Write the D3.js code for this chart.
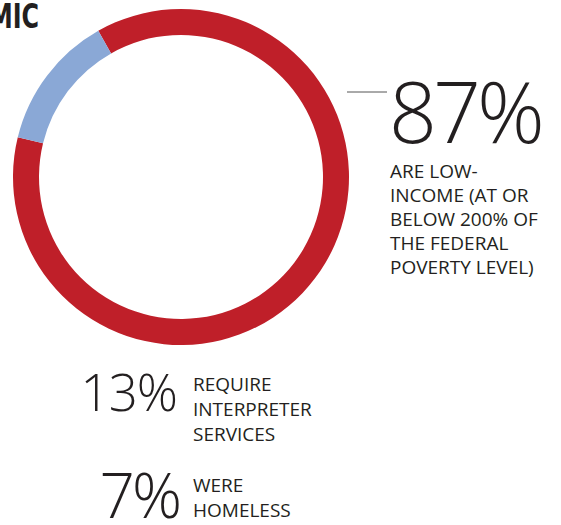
<!DOCTYPE html>
<html lang="en">
<head>
<meta charset="UTF-8">
<title>Patient profile</title>
<script src="https://cdn.jsdelivr.net/npm/d3@7"></script>
<style>
  body { margin: 0; background: #fff; }
  .title { font-family: "Liberation Sans Narrow", "DejaVu Sans Condensed", sans-serif; font-weight: 700; font-size: 34px; fill: #231f20; }
  .big { font-family: "Open Sans", "DejaVu Sans", sans-serif; font-weight: 300; fill: #231f20; }
  .label { font-family: "Open Sans", "DejaVu Sans Condensed", sans-serif; font-size: 19px; fill: #231f20; }
</style>
</head>
<body>
<div id="chart"></div>
<script>
// data
var shareNames = ["Low-income", "Other"];
var shareValues = [87, 13];
var shareColors = ["#bf1f29", "#8aa8d6"];

var statValues = ["87%", "13%", "7%"];
var statLines = [
  ["ARE LOW-", "INCOME (AT OR", "BELOW 200% OF", "THE FEDERAL", "POVERTY LEVEL)"],
  ["REQUIRE", "INTERPRETER", "SERVICES"],
  ["WERE", "HOMELESS"]
];

var width = 561, height = 525;
var cx = 181, cy = 177, rOuter = 168, rInner = 142;

var svg = d3.select("#chart").append("svg")
  .attr("width", width)
  .attr("height", height);

// title, cut off at the left edge (condensed by a horizontal squeeze)
svg.append("text")
  .attr("class", "title")
  .attr("transform", "translate(39,28) scale(0.78,1)")
  .attr("text-anchor", "end")
  .text("SOCIOECONOMIC");

// ring
var pie = d3.pie().sort(null)
  .startAngle(-29.5 * Math.PI / 180)
  .endAngle(330.5 * Math.PI / 180);
var arc = d3.arc().innerRadius(rInner).outerRadius(rOuter);

svg.append("g")
  .attr("transform", "translate(" + cx + "," + cy + ")")
  .selectAll("path")
  .data(pie(shareValues))
  .enter()
  .append("path")
  .attr("d", arc)
  .attr("fill", function(d, i){ return shareColors[i]; });

// leader line
svg.append("line")
  .attr("x1", 347).attr("x2", 387)
  .attr("y1", 92).attr("y2", 92)
  .attr("stroke", "#555").attr("stroke-width", 1);

// 87%
svg.append("text")
  .attr("class", "big")
  .attr("x", 389).attr("y", 143)
  .style("font-size", "84px")
  .style("letter-spacing", "-4px")
  .text(statValues[0]);

svg.append("g").selectAll("text")
  .data(statLines[0])
  .enter()
  .append("text")
  .attr("class", "label")
  .attr("x", 390)
  .attr("y", function(d, i){ return 178 + 24 * i; })
  .text(function(d){ return d; });

// 13%
svg.append("text")
  .attr("class", "big")
  .attr("x", 177).attr("y", 411)
  .attr("text-anchor", "end")
  .style("font-size", "51px")
  .style("letter-spacing", "-1px")
  .text(statValues[1]);

svg.append("g").selectAll("text")
  .data(statLines[1])
  .enter()
  .append("text")
  .attr("class", "label")
  .attr("x", 193)
  .attr("y", function(d, i){ return 391 + 25 * i; })
  .text(function(d){ return d; });

// 7%
svg.append("text")
  .attr("class", "big")
  .attr("x", 179).attr("y", 518)
  .attr("text-anchor", "end")
  .style("font-size", "62px")
  .style("letter-spacing", "-3px")
  .text(statValues[2]);

svg.append("g").selectAll("text")
  .data(statLines[2])
  .enter()
  .append("text")
  .attr("class", "label")
  .attr("x", 193)
  .attr("y", function(d, i){ return 492 + 25 * i; })
  .text(function(d){ return d; });
</script>
</body>
</html>
